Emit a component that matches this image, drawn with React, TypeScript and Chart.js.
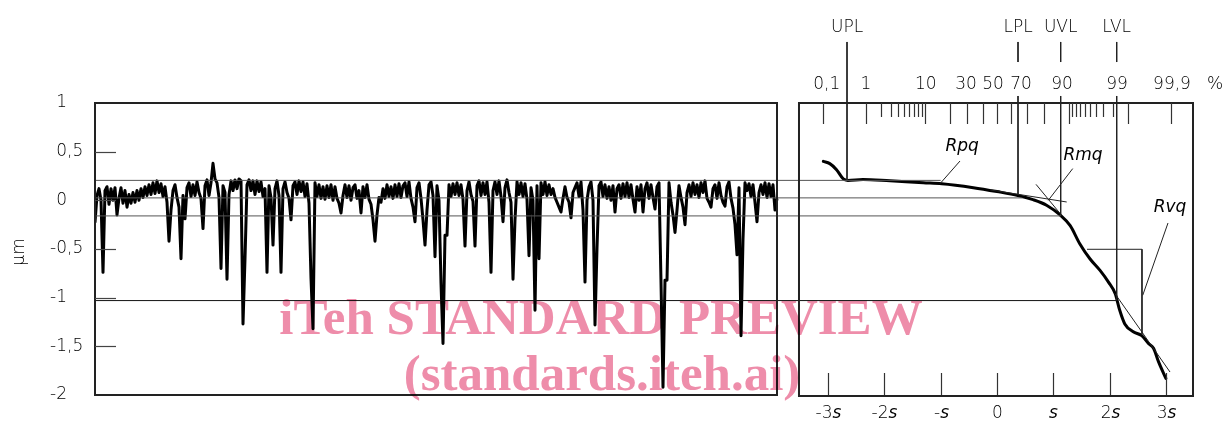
import React, { useEffect, useRef } from "react";
import { Chart, registerables } from "chart.js";
Chart.register(...registerables);

// ---------- data ----------
const profileValues: number[] = [
  -0.23, 0.05, 0.12, 0.0, -0.74, 0.1, 0.14, -0.04, 0.12, 0.0, 0.13, -0.15, 0.02, 0.13, -0.03, 0.1, -0.07, 0.06, -0.03, 0.08,
  -0.02, 0.1, 0.0, 0.12, 0.03, 0.14, 0.05, 0.16, 0.06, 0.18, 0.07, 0.2, 0.08, 0.17, 0.04, 0.14, -0.02, -0.42, -0.1, 0.1,
  0.16, 0.03, -0.07, -0.6, 0.05, -0.19, 0.13, 0.18, 0.04, 0.16, 0.05, 0.19, 0.08, 0.02, -0.29, 0.15, 0.21, 0.05, 0.18, 0.38,
  0.22, 0.18, 0.03, -0.7, 0.15, 0.08, -0.81, 0.06, 0.2, 0.1, 0.21, 0.12, 0.22, 0.2, -1.27, -0.6, 0.16, 0.21, 0.1, 0.2,
  0.06, 0.2, 0.09, 0.19, 0.04, 0.12, -0.74, 0.15, 0.03, -0.46, 0.12, 0.2, 0.05, -0.74, 0.12, 0.19, 0.08, 0.02, -0.2, 0.15,
  0.19, 0.06, 0.2, 0.09, 0.19, 0.04, 0.17, -0.03, -0.8, -1.32, 0.18, 0.04, 0.16, 0.02, 0.14, 0.01, 0.15, 0.03, 0.16, 0.0,
  0.14, 0.02, -0.03, -0.13, 0.05, 0.16, 0.03, 0.15, 0.0, 0.13, 0.16, 0.02, 0.1, -0.13, 0.14, 0.03, 0.16, 0.01, -0.04, -0.2,
  -0.42, -0.15, 0.03, -0.02, 0.12, 0.02, 0.16, 0.04, 0.14, 0.02, 0.16, 0.04, 0.17, 0.03, 0.15, 0.18, 0.04, 0.19, 0.02, -0.07,
  -0.22, 0.13, 0.18, 0.02, -0.2, -0.46, -0.1, 0.16, 0.19, 0.05, -0.58, 0.15, 0.0, -0.85, -1.47, -0.36, -0.36, 0.16, 0.04, 0.17,
  0.06, 0.18, 0.05, 0.16, 0.01, -0.47, 0.1, 0.19, 0.06, -0.01, -0.47, 0.15, 0.2, 0.05, 0.18, 0.06, 0.19, -0.02, -0.74, 0.1,
  0.19, 0.06, 0.2, 0.04, -0.22, 0.13, 0.21, 0.08, -0.02, -0.81, -0.2, 0.19, 0.06, 0.18, 0.04, 0.17, 0.01, -0.57, 0.13, 0.0,
  -1.13, 0.15, -0.6, 0.18, 0.06, 0.19, 0.05, 0.16, 0.06, 0.12, 0.03, -0.02, -0.07, -0.12, 0.02, 0.14, 0.03, -0.02, -0.18, 0.08,
  0.13, 0.18, 0.04, 0.19, -0.1, -0.84, 0.0, 0.14, 0.19, 0.0, -1.28, -0.49, 0.15, 0.19, 0.04, 0.16, 0.02, 0.14, 0.0, 0.15,
  -0.12, 0.12, 0.16, 0.02, 0.17, 0.04, 0.18, 0.03, 0.16, 0.01, -0.12, 0.14, 0.0, 0.16, -0.12, 0.12, 0.18, 0.02, 0.16, 0.03,
  -0.09, 0.14, 0.18, -0.84, -1.92, -0.82, -0.82, 0.18, -0.02, -0.15, -0.33, -0.1, 0.15, 0.03, -0.07, -0.25, 0.08, 0.16, 0.04, 0.18,
  0.06, 0.16, 0.03, 0.18, 0.08, 0.2, 0.02, -0.02, -0.07, 0.12, 0.16, 0.02, 0.18, 0.05, -0.02, -0.06, 0.14, 0.19, 0.02, -0.08,
  -0.25, -0.56, 0.13, -1.39, -0.4, 0.18, 0.1, 0.17, 0.04, 0.16, -0.02, -0.22, 0.08, 0.16, 0.06, 0.18, 0.03, 0.17, 0.04, 0.16,
  -0.1, 0.02,
];

// material ratio curve on probability (sigma) scale
const curveSigma: number[] = [
  -3.085, -2.97, -2.85, -2.73, -2.65, -2.38, -1.9, -1.31, -0.98, -0.42, 0, 0.37, 0.64, 0.88, 1.12,
  1.3, 1.47, 1.65, 1.83, 1.98, 2.1, 2.18, 2.27, 2.42, 2.57, 2.69, 2.78, 2.87, 3.0,
];
const curveValues: number[] = [
  0.4, 0.377, 0.315, 0.22, 0.205, 0.215, 0.2, 0.18, 0.17, 0.13, 0.09, 0.05, 0.007, -0.05, -0.15,
  -0.26, -0.445, -0.6, -0.72, -0.84, -0.96, -1.13, -1.27, -1.35, -1.39, -1.47, -1.52, -1.66, -1.83,
];

const yTickValues = [1, 0.5, 0, -0.5, -1, -1.5, -2];
const yTickLabels = ["1", "0,5", "0", "-0,5", "-1", "-1,5", "-2"];
const yMinorMarks = [0.5, 0, -0.5, -1, -1.5];

const sigmaTicks = [-3, -2, -1, 0, 1, 2, 3];
const sigmaTickPrefix = ["-3", "-2", "-", "0", "", "2", "3"];
const sigmaTickItalic = ["s", "s", "s", "", "s", "s", "s"];

const pctLongTicks = [0.1, 1, 10, 20, 30, 40, 50, 60, 70, 80, 90, 99, 99.9];
const pctShortTicks = [2, 3, 4, 5, 6, 7, 8, 9, 91, 92, 93, 94, 95, 96, 97, 98];
const pctLabels = ["0,1", "1", "10", "30", "50", "70", "90", "99", "99,9", "%"];
const pctLabelSigma = [-3.025, -2.327, -1.265, -0.551, -0.071, 0.426, 1.155, 2.131, 3.108, 3.872];

const limitNames = ["UPL", "LPL", "UVL", "LVL"];
const limitSigma = [-2.664, 0.373, 1.131, 2.126];
const limitEnds = [0.205, 0.06, -0.16, -1.03];

const levelValues = [0.205, 0.025, -0.16, -1.03];
const levelEndSigma = [-1.0, 0.45, 1.131, 2.126];

const paramNames = ["Rpq", "Rmq", "Rvq"];
const paramSigma = [-0.62, 1.528, 3.073];
const paramValues = [0.548, 0.455, -0.079];

// construction lines [sigma, value] pairs
const rmqTangent = [[-0.12, 0.107], [1.238, -0.017]];
const rmqCross = [[0.693, 0.164], [1.119, -0.134]];
const rvqLine = [[2.096, -0.959], [3.073, -1.764]];
const rvqBox = [[1.599, -0.503], [2.575, -0.503], [2.575, -1.377]];
const leaders = [
  [[-0.657, 0.404], [-1.012, 0.171]],
  [[1.345, 0.326], [0.911, 0.0]],
  [[3.037, -0.233], [2.588, -0.976]],
];

const watermark1 = "iTeh STANDARD PREVIEW";
const watermark2 = "(standards.iteh.ai)";

// ---------- helpers ----------
function probit(p: number): number {
  const a = [-39.69683028665376, 220.9460984245205, -275.9285104469687, 138.357751867269, -30.66479806614716, 2.506628277459239];
  const b = [-54.47609879822406, 161.5858368580409, -155.6989798598866, 66.80131188771972, -13.28068155288572];
  const c = [-0.007784894002430293, -0.3223964580411365, -2.400758277161838, -2.549732539343734, 4.374664141464968, 2.938163982698783];
  const d = [0.007784695709041462, 0.3224671290700398, 2.445134137142996, 3.754408661907416];
  const pl = 0.02425;
  if (p < pl) {
    const q = Math.sqrt(-2 * Math.log(p));
    return (((((c[0] * q + c[1]) * q + c[2]) * q + c[3]) * q + c[4]) * q + c[5]) / ((((d[0] * q + d[1]) * q + d[2]) * q + d[3]) * q + 1);
  }
  if (p > 1 - pl) {
    const q = Math.sqrt(-2 * Math.log(1 - p));
    return -(((((c[0] * q + c[1]) * q + c[2]) * q + c[3]) * q + c[4]) * q + c[5]) / ((((d[0] * q + d[1]) * q + d[2]) * q + d[3]) * q + 1);
  }
  const q = p - 0.5;
  const r = q * q;
  return ((((((a[0] * r + a[1]) * r + a[2]) * r + a[3]) * r + a[4]) * r + a[5]) * q) / (((((b[0] * r + b[1]) * r + b[2]) * r + b[3]) * r + b[4]) * r + 1);
}

const FONT = "'DejaVu Sans', 'Liberation Sans', sans-serif";
const TXT = `200 17px ${FONT}`;
const TXT_I = `italic 200 17px ${FONT}`;
const LINE = "#222";

function seg(points: (number | null)[][], color = LINE, width = 1) {
  return {
    type: "line" as const,
    data: points.map((p) => ({ x: p[0] as number, y: p[1] })),
    xAxisID: "x2",
    yAxisID: "y",
    borderColor: color,
    borderWidth: width,
    pointRadius: 0,
    tension: 0,
    spanGaps: false,
    clip: false as any,
  };
}

const SIG_MIN = -16.021;
const SIG_MAX = 3.499;
const PANEL_SIG_LEFT = -3.517;

const decor = {
  id: "decor",
  afterDraw(chart: any) {
    const ctx: CanvasRenderingContext2D = chart.ctx;
    const { top, bottom } = chart.chartArea;
    const xs = chart.scales.x;
    const x2 = chart.scales.x2;
    const ys = chart.scales.y;
    ctx.save();
    ctx.fillStyle = "#000";
    ctx.strokeStyle = LINE;

    // frames
    ctx.lineWidth = 2;
    const lx0 = xs.getPixelForValue(0);
    const lx1 = xs.getPixelForValue(profileValues.length - 1);
    ctx.strokeRect(lx0, top, lx1 - lx0, bottom - top);
    const rx0 = x2.getPixelForValue(PANEL_SIG_LEFT);
    const rx1 = x2.getPixelForValue(SIG_MAX);
    ctx.strokeRect(rx0, top, rx1 - rx0 - 1, bottom - top + 1);

    // left y ticks
    ctx.lineWidth = 1.2;
    ctx.strokeStyle = "#444";
    yMinorMarks.forEach((v) => {
      const y = Math.round(ys.getPixelForValue(v)) + 0.5;
      ctx.beginPath();
      ctx.moveTo(lx0, y);
      ctx.lineTo(lx0 + 21, y);
      ctx.stroke();
    });
    ctx.font = TXT;
    ctx.textBaseline = "middle";
    yTickValues.forEach((v, i) => {
      const y = ys.getPixelForValue(v);
      const parts = yTickLabels[i].split(",");
      ctx.textAlign = "right";
      ctx.fillText(parts[0], 67, y);
      if (parts[1]) {
        ctx.textAlign = "left";
        ctx.fillText("," + parts[1], 67, y);
      }
    });
    // axis title
    ctx.save();
    ctx.translate(20, 252);
    ctx.rotate(-Math.PI / 2);
    ctx.textAlign = "center";
    ctx.fillText("µm", 0, 0);
    ctx.restore();

    // bottom sigma ticks
    ctx.strokeStyle = "#333";
    ctx.lineWidth = 1.2;
    sigmaTicks.forEach((s, i) => {
      const x = Math.round(x2.getPixelForValue(s)) + 0.5;
      ctx.beginPath();
      ctx.moveTo(x, bottom);
      ctx.lineTo(x, bottom - 22);
      ctx.stroke();
      const pre = sigmaTickPrefix[i];
      const it = sigmaTickItalic[i];
      ctx.font = TXT;
      const w1 = ctx.measureText(pre).width;
      ctx.font = TXT_I;
      const w2 = ctx.measureText(it).width;
      const start = x - (w1 + w2) / 2;
      ctx.textAlign = "left";
      ctx.font = TXT;
      ctx.fillText(pre, start, 414);
      ctx.font = TXT_I;
      ctx.fillText(it, start + w1, 414);
    });

    // top probability ticks
    pctLongTicks.forEach((p) => {
      const x = Math.round(x2.getPixelForValue(probit(p / 100))) + 0.5;
      ctx.beginPath();
      ctx.moveTo(x, top);
      ctx.lineTo(x, top + 21);
      ctx.stroke();
    });
    pctShortTicks.forEach((p) => {
      const x = Math.round(x2.getPixelForValue(probit(p / 100))) + 0.5;
      ctx.beginPath();
      ctx.moveTo(x, top);
      ctx.lineTo(x, top + 14);
      ctx.stroke();
    });
    ctx.font = TXT;
    ctx.textAlign = "center";
    pctLabels.forEach((t, i) => {
      ctx.fillText(t, x2.getPixelForValue(pctLabelSigma[i]), 85);
    });
    limitNames.forEach((t, i) => {
      ctx.fillText(t, x2.getPixelForValue(limitSigma[i]), 28);
    });
    ctx.font = TXT_I;
    paramNames.forEach((t, i) => {
      ctx.fillText(t, x2.getPixelForValue(paramSigma[i]), ys.getPixelForValue(paramValues[i]));
    });

    // watermark
    ctx.globalCompositeOperation = "multiply";
    ctx.fillStyle = "rgb(238,141,170)";
    ctx.font = `bold 51px 'Liberation Serif', 'DejaVu Serif', serif`;
    ctx.textAlign = "center";
    ctx.textBaseline = "alphabetic";
    ctx.fillText(watermark1, 601, 334);
    ctx.fillText(watermark2, 602, 390);
    ctx.restore();
  },
};

export default function App() {
  const ref = useRef<HTMLCanvasElement | null>(null);
  useEffect(() => {
    if (!ref.current) return;
    const yTop = 1.627;
    const yTickEnd = 1.421;
    const yBelowAxis = 1.072;
    const datasets: any[] = [];
    // horizontal level lines spanning both panels
    levelValues.forEach((v, i) => {
      datasets.push(seg([[SIG_MIN, v], [levelEndSigma[i], v]], i === 3 ? "#111" : "#555", 1));
    });
    // limit verticals
    limitSigma.forEach((s, i) => {
      if (i === 0) {
        datasets.push(seg([[s, yTop], [s, limitEnds[i]]]));
      } else {
        datasets.push(seg([[s, yTop], [s, yTickEnd], [s, null], [s, yBelowAxis], [s, limitEnds[i]]]));
      }
    });
    datasets.push(seg(rmqTangent));
    datasets.push(seg(rmqCross));
    datasets.push(seg(rvqLine));
    datasets.push(seg(rvqBox));
    leaders.forEach((l) => datasets.push(seg(l)));
    // profile
    datasets.push({
      type: "line",
      data: profileValues.map((v, i) => ({ x: i, y: v })),
      xAxisID: "x",
      yAxisID: "y",
      borderColor: "#000",
      borderWidth: 3,
      pointRadius: 0,
      tension: 0,
      borderJoinStyle: "round",
    });
    // material ratio curve
    datasets.push({
      type: "line",
      data: curveSigma.map((s, i) => ({ x: s, y: curveValues[i] })),
      xAxisID: "x2",
      yAxisID: "y",
      borderColor: "#000",
      borderWidth: 3,
      pointRadius: 0,
      cubicInterpolationMode: "monotone",
      borderJoinStyle: "round",
      borderCapStyle: "round",
    });

    const chart = new Chart(ref.current, {
      type: "line",
      data: { datasets },
      options: {
        responsive: false,
        animation: false,
        devicePixelRatio: 1,
        layout: { padding: { left: 95, right: 29, top: 103, bottom: 31 } },
        plugins: { legend: { display: false }, tooltip: { enabled: false } },
        events: [],
        scales: {
          x: { type: "linear", min: 0, max: 549.5, display: false },
          x2: { type: "linear", min: SIG_MIN, max: SIG_MAX, display: false },
          y: { type: "linear", min: -2, max: 1, display: false },
        },
      },
      plugins: [decor],
    } as any);
    return () => chart.destroy();
  }, []);
  return (
    <div style={{ position: "fixed", left: 0, top: 0, width: 1223, height: 426, background: "#fff" }}>
      <canvas ref={ref} width={1223} height={426} style={{ display: "block" }} />
    </div>
  );
}
